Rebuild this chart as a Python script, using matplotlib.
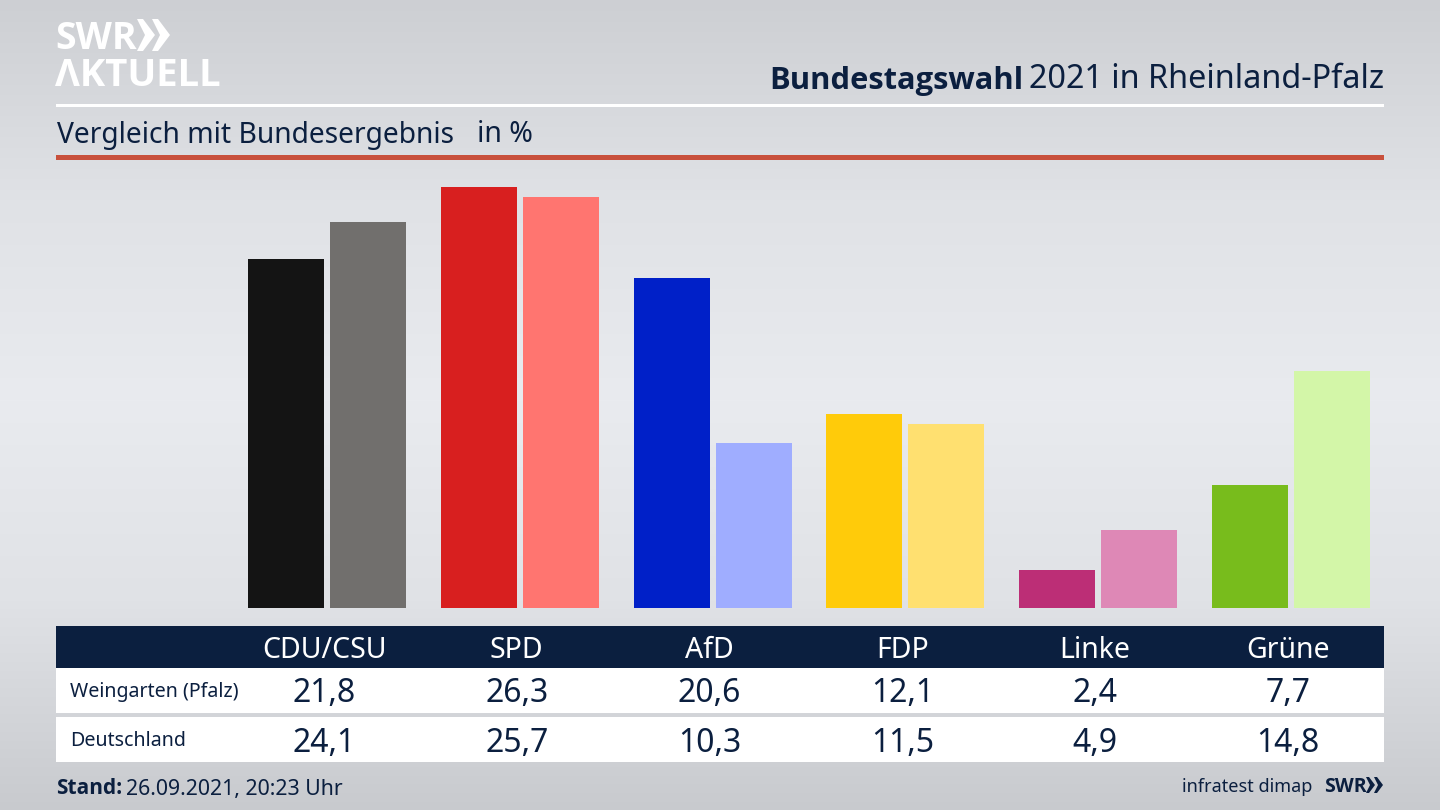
import numpy as np
import matplotlib
matplotlib.use('Agg')
import matplotlib.pyplot as plt
from matplotlib.patches import Rectangle, Polygon

parties = ['CDU/CSU', 'SPD', 'AfD', 'FDP', 'Linke', 'Grüne']
weingarten = [21.8, 26.3, 20.6, 12.1, 2.4, 7.7]
deutschland = [24.1, 25.7, 10.3, 11.5, 4.9, 14.8]
weingarten_labels = ['21,8', '26,3', '20,6', '12,1', '2,4', '7,7']
deutschland_labels = ['24,1', '25,7', '10,3', '11,5', '4,9', '14,8']
colors_dark = ['#141414', '#d81f1f', '#0020c8', '#ffcb0a', '#bc2e76', '#78bc1c']
colors_light = ['#716f6d', '#ff7570', '#9fadff', '#ffe070', '#de88b6', '#d3f6a8']

NAVY = '#0b1f3f'
BOLD = ['Open Sans', 'DejaVu Sans']
plt.rcParams['font.family'] = ['Noto Sans', 'DejaVu Sans']

fig = plt.figure(figsize=(14.4, 8.1), dpi=100)

# background + all decoration in pixel coordinates
bg = fig.add_axes([0, 0, 1, 1])
bg.set_xlim(0, 1440)
bg.set_ylim(810, 0)
bg.axis('off')
stops_y = [0, 200, 400, 600, 810]
stops_c = [205, 224, 233, 224, 200]
grad = np.interp(np.arange(810), stops_y, stops_c)
rgb = np.stack([grad, grad + 2, grad + 6], axis=1)[:, None, :] / 255
bg.imshow(np.clip(rgb, 0, 1), extent=[0, 1440, 810, 0], aspect='auto', zorder=0)

# header lines
bg.add_patch(Rectangle((56, 104), 1328, 3, color='white', lw=0, zorder=1))
bg.add_patch(Rectangle((56, 155), 1328, 5, color='#c8503c', lw=0, zorder=1))

# table
bg.add_patch(Rectangle((56, 626), 1328, 42, color=NAVY, lw=0, zorder=1))
bg.add_patch(Rectangle((56, 668), 1328, 45, color='white', lw=0, zorder=1))
bg.add_patch(Rectangle((56, 717), 1328, 45, color='white', lw=0, zorder=1))

# logo
bg.text(55, 39, 'SWR', fontsize=27, family=BOLD, fontweight='bold', color='white', va='center', ha='left', zorder=2)
bg.text(55, 76, 'ΛKTUELL', fontsize=27.5, family=BOLD, fontweight='bold', color='white', va='center', ha='left', zorder=2)
for x0 in (137, 152):
    bg.add_patch(Polygon([(x0, 19), (x0 + 6, 19), (x0 + 18, 35), (x0 + 6, 51), (x0, 51), (x0 + 8, 35)],
                         closed=True, color='white', lw=0, zorder=2))

# titles
bg.text(769, 81, 'Bundestagswahl', fontsize=22.2, family=BOLD, fontweight='bold', color=NAVY, va='center', ha='left', zorder=2)
bg.text(1384, 80, '2021 in Rheinland-Pfalz', fontsize=23.3, color=NAVY, va='center', ha='right', zorder=2)
bg.text(57, 135, 'Vergleich mit Bundesergebnis', fontsize=20.3, color=NAVY, va='center', ha='left', zorder=2)
bg.text(477, 135, 'in %', fontsize=20.5, color=NAVY, va='center', ha='left', zorder=2)

# footer
bg.text(56, 788, 'Stand:', fontsize=15, family=BOLD, fontweight='bold', color=NAVY, va='center', ha='left', zorder=2)
bg.text(126, 789, '26.09.2021, 20:23 Uhr', fontsize=15.3, color=NAVY, va='center', ha='left', zorder=2)
bg.text(1312, 787, 'infratest dimap', fontsize=13, color=NAVY, va='center', ha='right', zorder=2)
bg.text(1324, 787, 'SWR', fontsize=14, family=BOLD, fontweight='bold', color=NAVY, va='center', ha='left', zorder=2)
for x0 in (1366, 1374):
    bg.add_patch(Polygon([(x0, 777), (x0 + 3, 777), (x0 + 9, 785), (x0 + 3, 793), (x0, 793), (x0 + 4, 785)],
                         closed=True, color=NAVY, lw=0, zorder=2))

# bars, baseline at y=608 px, 16 px per percent, groups 192.8 px apart
ax = fig.add_axes([56 / 1440, (810 - 608) / 810, 1328 / 1440, 448 / 810])
ax.patch.set_alpha(0)
ax.axis('off')
ax.set_ylim(0, 28)
ax.set_xlim(-1.4056, 5.482)
x = np.arange(len(parties))
ax.bar(x - 0.2127, weingarten, width=0.3942, color=colors_dark)
ax.bar(x + 0.2127, deutschland, width=0.3942, color=colors_light)

# table text, columns follow the bar groups
for i, party in enumerate(parties):
    px = 327 + 192.8 * i - 3
    bg.text(px, 651, party, fontsize=20.5, color='white', va='center', ha='center', zorder=2)
    bg.text(px, 694, weingarten_labels[i], fontsize=23, color=NAVY, va='center', ha='center', zorder=2)
    bg.text(px, 743, deutschland_labels[i], fontsize=23, color=NAVY, va='center', ha='center', zorder=2)
bg.text(70, 692, 'Weingarten (Pfalz)', fontsize=14.1, color=NAVY, va='center', ha='left', zorder=2)
bg.text(70, 741, 'Deutschland', fontsize=14.1, color=NAVY, va='center', ha='left', zorder=2)

fig.savefig('out.png', dpi=100)
